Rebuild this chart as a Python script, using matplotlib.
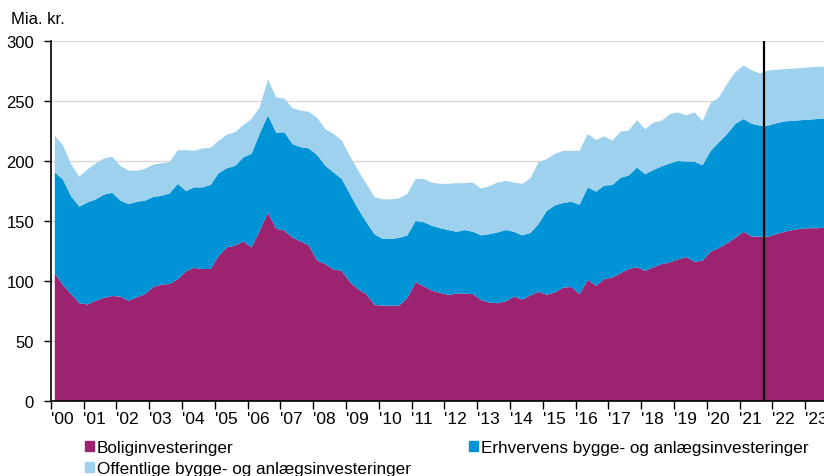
import numpy as np
import pandas as pd
import matplotlib
matplotlib.use("Agg")
import matplotlib.pyplot as plt
from matplotlib.patches import Patch

# quarterly data, 2000Q1 - 2023Q4 (Mia. kr.)
quarters = pd.period_range("2000Q1", "2023Q4", freq="Q")

bolig = [106.5, 96.5, 89, 81.5, 80.5, 83.5, 86, 87.5, 87, 83.5, 86.5, 89,
         95, 97, 97.5, 101.5, 108, 111, 110, 110, 121, 128, 129.5, 133,
         128, 142, 157, 143.5, 142, 136, 133, 129.5, 117, 114, 109.5, 108.5,
         99, 93, 89, 80, 79.5, 79.5, 79.5, 86, 99, 95.5, 92, 90,
         88.5, 89.5, 89.5, 89, 84, 82, 81.5, 83, 87, 84.5, 88, 91,
         88.5, 90.5, 94.5, 95, 89, 101, 96, 101.5, 103, 106.5, 110, 111.5,
         108.5, 111.5, 114, 115.5, 118, 120, 116, 117, 124.5, 127.5, 131.5, 136,
         141, 137, 137, 137, 139, 141, 142.5, 143.5, 144, 144, 144.5, 145]

erhverv = [84, 88, 81.5, 80.5, 85, 84.5, 86, 86, 80, 80.5, 79.5, 78,
           75, 74, 75.5, 79.5, 67, 67, 68, 70, 69, 66, 66.5, 70,
           78, 81, 81, 80, 82, 78, 78.5, 81, 88, 82, 81, 76.5,
           73.5, 67, 60, 59, 55.5, 55.5, 56.5, 52, 51, 53.5, 54, 54,
           54, 51.5, 53, 52, 54, 57, 59, 59.5, 54, 53.5, 52, 56.5,
           70, 72.5, 70.5, 71, 74.5, 77, 78.5, 78, 77, 79.5, 78, 83,
           80.5, 81, 81.5, 82.5, 82, 79.5, 83.5, 79.5, 84, 88, 91, 95,
           94, 94, 92.5, 92.5, 92.5, 92, 91, 90.5, 90.5, 91, 90.5, 90.5]

offentlig = [30.5, 28.5, 26.5, 25, 27.5, 30, 30, 30, 29, 28, 26, 26.5,
             27, 27, 26, 28, 34, 30.5, 32.5, 31, 27, 28, 28, 27,
             29, 22, 30, 29.5, 28, 30, 30.5, 30.5, 31, 30.5, 32, 32,
             31.5, 32, 32, 31, 33, 33, 33, 34.5, 35, 36, 36, 37,
             38.5, 40.5, 39, 41, 39, 40, 41.5, 41, 41, 43, 45.5, 51.5,
             43, 43, 43.5, 42.5, 45, 44.5, 43, 41, 37, 38.5, 37.5, 39.5,
             37.5, 39.5, 38, 41, 40.5, 38.5, 41, 37, 40, 37.5, 42, 43,
             44.5, 44.5, 43.5, 46, 44.5, 43.5, 43.5, 43.5, 43.5, 43.5, 43.5, 43.5]

labels = ["Boliginvesteringer",
          "Erhvervens bygge- og anlægsinvesteringer",
          "Offentlige bygge- og anlægsinvesteringer"]
colors = ["#9B2370", "#0093D5", "#9DD1EE"]

years = list(range(2000, 2024))
year_labels = ["'%02d" % (y % 100) for y in years]
forecast_start = 2021.75

# x position: middle of each quarter
x = np.array([q.year + (q.quarter - 0.5) / 4 for q in quarters])

plt.rcParams["font.family"] = ["Liberation Sans", "DejaVu Sans"]

fig = plt.figure(figsize=(8.24, 4.77), dpi=100)
ax = fig.add_axes([50.7 / 824, 75 / 477, 1 - 50.7 / 824, 360 / 477])

ax.stackplot(x, bolig, erhverv, offentlig, colors=colors, linewidth=0, zorder=2)
ax.axvline(forecast_start, color="black", lw=1.6, zorder=3)

ax.set_xlim(2000, 2000 + (824 - 50.7) / 32.8)
ax.set_ylim(0, 300)
ax.set_yticks(range(0, 301, 50))
ax.yaxis.grid(True, color="#d9d9d9", lw=1, zorder=0)
ax.set_axisbelow(True)

ax.set_xticks(years)
ax.set_xticklabels(year_labels, ha="left",
                   family=["Liberation Sans Narrow", "Liberation Sans"], fontsize=12.5)
ax.tick_params(axis="x", length=6, width=1, pad=1)
ax.tick_params(axis="y", length=5, width=1, pad=7, labelsize=12)

for s in ["top", "right"]:
    ax.spines[s].set_visible(False)
for s in ["left", "bottom"]:
    ax.spines[s].set_linewidth(1.2)

fig.text(11 / 824, 1 - 20 / 477, "Mia. kr.", fontsize=12, va="center")

handles = [Patch(color=c) for c in colors]
order = [0, 2, 1]
fig.legend([handles[i] for i in order], [labels[i] for i in order],
           ncol=2, loc="upper left", bbox_to_anchor=(85 / 824, 1 - 441 / 477),
           frameon=False, fontsize=12.3, handlelength=0.55, handleheight=0.6,
           handletextpad=0.15, labelspacing=0.35, columnspacing=3.4,
           borderaxespad=0, borderpad=0)

fig.savefig("out.png", dpi=100)
